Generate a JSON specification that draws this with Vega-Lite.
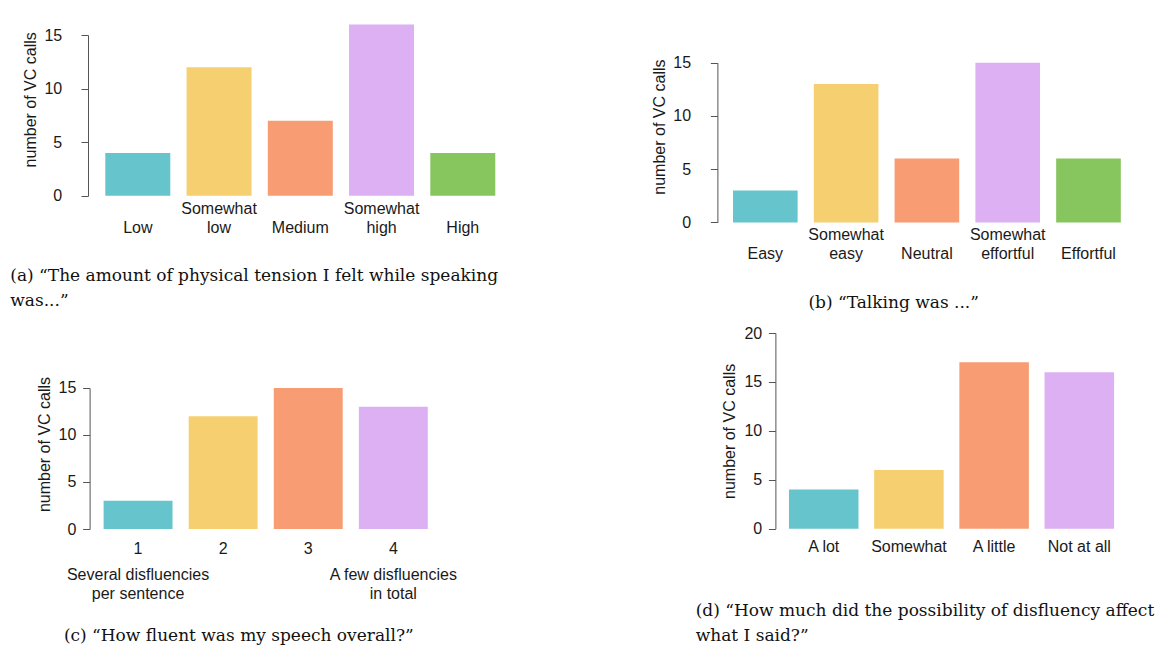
{
  "$schema": "https://vega.github.io/schema/vega-lite/v6.json",
  "padding": {"left": 10, "top": 3, "right": 0, "bottom": 0},
  "background": "white",
  "columns": 2,
  "bounds": "flush",
  "align": "none",
  "spacing": {"row": 110, "column": 204.4},
  "datasets": {
    "tension": [
      {"answer": "Low", "calls": 4},
      {"answer": "Somewhat low", "calls": 12},
      {"answer": "Medium", "calls": 7},
      {"answer": "Somewhat high", "calls": 16},
      {"answer": "High", "calls": 4}
    ],
    "talking": [
      {"answer": "Easy", "calls": 3},
      {"answer": "Somewhat easy", "calls": 13},
      {"answer": "Neutral", "calls": 6},
      {"answer": "Somewhat effortful", "calls": 15},
      {"answer": "Effortful", "calls": 6}
    ],
    "fluency": [
      {"score": "1", "calls": 3},
      {"score": "2", "calls": 12},
      {"score": "3", "calls": 15},
      {"score": "4", "calls": 13}
    ],
    "fluency_ends": [
      {"score": "1", "note": "Several disfluencies\nper sentence"},
      {"score": "4", "note": "A few disfluencies\nin total"}
    ],
    "affect": [
      {"answer": "A lot", "calls": 4},
      {"answer": "Somewhat", "calls": 6},
      {"answer": "A little", "calls": 17},
      {"answer": "Not at all", "calls": 16}
    ]
  },
  "concat": [
    {
      "width": 424.6,
      "height": 192.8,
      "data": {"name": "tension"},
      "title": {
        "text": ["(a) “The amount of physical tension I felt while speaking", "was...”"],
        "orient": "bottom", "anchor": "start", "frame": "group",
        "dx": -77.7, "offset": 45.2, "baseline": "alphabetic"
      },
      "mark": {"type": "bar"},
      "encoding": {
        "x": {
          "field": "answer", "type": "nominal", "sort": null, "title": null,
          "scale": {"paddingInner": 0.2, "paddingOuter": 0.213},
          "axis": {
            "domain": false, "ticks": false, "tickSize": 0, "labelAngle": 0,
            "labelPadding": 17.5, "labelBaseline": "alphabetic", "labelLineHeight": 19.3,
            "labelExpr": "indexof(datum.label, ' ') > 0 ? split(datum.label, ' ') : ['', datum.label]"
          }
        },
        "y": {
          "field": "calls", "type": "quantitative",
          "scale": {"domain": [0, 18], "nice": false},
          "axis": {
            "title": "number of VC calls", "values": [0, 5, 10, 15],
            "domainDash": [160.7, 2000], "labelPadding": 19.3,
            "titleX": -49.3, "titleY": 96.3
          }
        },
        "color": {
          "field": "answer", "type": "nominal", "legend": null,
          "scale": {
            "domain": ["Low", "Somewhat low", "Medium", "Somewhat high", "High"],
            "range": ["#66C5CC", "#F6CF71", "#F89C74", "#DCB0F2", "#87C55F"]
          }
        }
      }
    },
    {
      "width": 419,
      "height": 219.4,
      "data": {"name": "talking"},
      "title": {
        "text": "(b) “Talking was ...”",
        "orient": "bottom", "anchor": "middle", "frame": "group",
        "dx": -33.2, "offset": 47.1, "baseline": "alphabetic"
      },
      "mark": {"type": "bar"},
      "encoding": {
        "x": {
          "field": "answer", "type": "nominal", "sort": null, "title": null,
          "scale": {"paddingInner": 0.2, "paddingOuter": 0.193},
          "axis": {
            "domain": false, "ticks": false, "tickSize": 0, "labelAngle": 0,
            "labelPadding": 16.6, "labelBaseline": "alphabetic", "labelLineHeight": 19.3,
            "labelExpr": "indexof(datum.label, ' ') > 0 ? split(datum.label, ' ') : ['', datum.label]"
          }
        },
        "y": {
          "field": "calls", "type": "quantitative",
          "scale": {"domain": [0, 20.62], "nice": false},
          "axis": {
            "title": "number of VC calls", "values": [0, 5, 10, 15],
            "domainDash": [159.6, 2000], "labelPadding": 19.8,
            "titleX": -49.5, "titleY": 123.6
          }
        },
        "color": {
          "field": "answer", "type": "nominal", "legend": null,
          "scale": {
            "domain": ["Easy", "Somewhat easy", "Neutral", "Somewhat effortful", "Effortful"],
            "range": ["#66C5CC", "#F6CF71", "#F89C74", "#DCB0F2", "#87C55F"]
          }
        }
      }
    },
    {
      "width": 355.4,
      "height": 196,
      "title": {
        "text": "(c) “How fluent was my speech overall?”",
        "orient": "bottom", "anchor": "middle", "frame": "group",
        "dx": -26.9, "offset": 38.4, "baseline": "alphabetic"
      },
      "layer": [
        {
          "data": {"name": "fluency"},
          "mark": {"type": "bar"},
          "encoding": {
            "x": {
              "field": "score", "type": "nominal", "sort": null, "title": null,
              "scale": {"domain": ["1", "2", "3", "4"], "paddingInner": 0.19, "paddingOuter": 0.1833},
              "axis": {
                "domain": false, "ticks": false, "tickSize": 0, "labelAngle": 0,
                "labelPadding": 24, "labelBaseline": "alphabetic"
              }
            },
            "y": {
              "field": "calls", "type": "quantitative",
              "scale": {"domain": [0, 20.85], "nice": false},
              "axis": {
                "title": "number of VC calls", "values": [0, 5, 10, 15],
                "domainDash": [141, 2000], "labelPadding": 6.7, "offset": -1.6,
                "titleX": -37.6, "titleY": 111
              }
            },
            "color": {
              "field": "score", "type": "nominal", "legend": null,
              "scale": {
                "domain": ["1", "2", "3", "4"],
                "range": ["#66C5CC", "#F6CF71", "#F89C74", "#DCB0F2"]
              }
            }
          }
        },
        {
          "data": {"name": "fluency_ends"},
          "mark": {
            "type": "text", "lineBreak": "\n", "fontSize": 16, "lineHeight": 19.8,
            "baseline": "alphabetic", "align": "center", "dy": 50.5, "color": "#1a1a1a"
          },
          "encoding": {
            "x": {"field": "score", "type": "nominal"},
            "y": {"datum": 0, "type": "quantitative"},
            "text": {"field": "note"}
          }
        }
      ]
    },
    {
      "width": 409.9,
      "height": 195.7,
      "data": {"name": "affect"},
      "title": {
        "text": ["(d) “How much did the possibility of disfluency affect", "what I said?”"],
        "orient": "bottom", "anchor": "start", "frame": "group",
        "dx": -21.7, "offset": 61, "baseline": "alphabetic"
      },
      "mark": {"type": "bar"},
      "encoding": {
        "x": {
          "field": "answer", "type": "nominal", "sort": null, "title": null,
          "scale": {"paddingInner": 0.184, "paddingOuter": 0.4977, "align": 0.844},
          "axis": {
            "domain": false, "ticks": false, "tickSize": 0, "labelAngle": 0,
            "labelPadding": 23, "labelBaseline": "alphabetic"
          }
        },
        "y": {
          "field": "calls", "type": "quantitative",
          "scale": {"domain": [0, 20], "nice": false},
          "axis": {
            "title": "number of VC calls", "values": [0, 5, 10, 15, 20],
            "labelPadding": 6.7, "offset": -58, "titleX": -38, "titleY": 97.9
          }
        },
        "color": {
          "field": "answer", "type": "nominal", "legend": null,
          "scale": {
            "domain": ["A lot", "Somewhat", "A little", "Not at all"],
            "range": ["#66C5CC", "#F6CF71", "#F89C74", "#DCB0F2"]
          }
        }
      }
    }
  ],
  "resolve": {"scale": {"x": "independent", "y": "independent", "color": "independent"}},
  "config": {
    "view": {"stroke": null},
    "axis": {
      "grid": false,
      "labelFont": "Liberation Sans", "labelFontSize": 16, "labelColor": "#1a1a1a",
      "titleFont": "Liberation Sans", "titleFontSize": 16, "titleFontWeight": "normal", "titleColor": "#1a1a1a",
      "titleAngle": 270, "titleAlign": "center", "titleBaseline": "bottom",
      "domainColor": "#555555", "tickColor": "#555555", "tickSize": 7, "domainWidth": 1, "tickWidth": 1
    },
    "text": {"font": "Liberation Sans"},
    "title": {
      "font": "DejaVu Serif", "fontSize": 17, "fontWeight": "normal", "color": "#111111", "lineHeight": 25.5
    }
  }
}
